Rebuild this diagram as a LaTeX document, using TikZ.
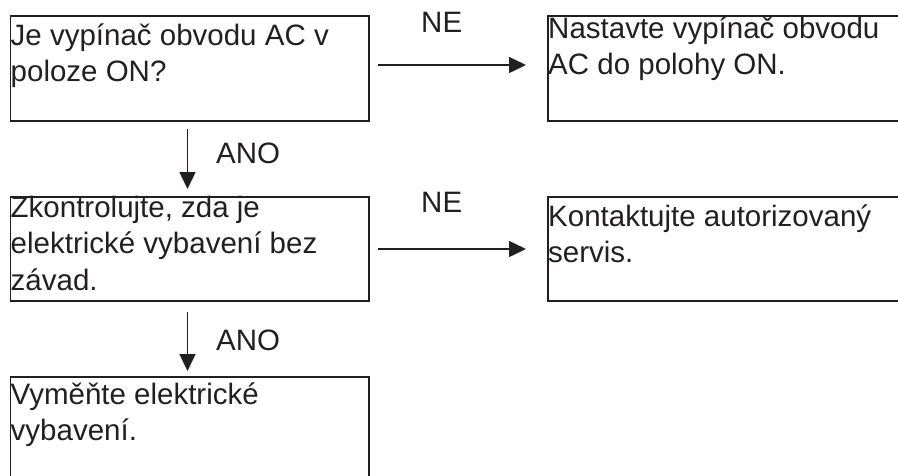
\documentclass[tikz,border=0pt]{standalone}
\usepackage{fontspec}
\setmainfont{Liberation Sans}
\usetikzlibrary{arrows.meta}
\definecolor{ink}{HTML}{231F20}
\begin{document}
\begin{tikzpicture}[x=1pt,y=-1pt,
  box/.style={draw=ink,line width=1.5pt,rectangle,inner sep=0pt,anchor=north west},
  txt/.style={inner sep=0pt,anchor=base west,text=ink,font=\fontsize{29.5}{36.5}\selectfont},
  lbl/.style={inner sep=0pt,anchor=base west,text=ink,font=\fontsize{29.5}{34}\selectfont},
  conn/.style={draw=ink,line width=1.5pt,-{Triangle[length=17pt,width=16pt]},shorten >=0pt}]
\clip (0,0) rectangle (898,475);
% boxes
\node[box,minimum width=358.5pt,minimum height=105pt] (b1) at (9.5,15) {};
\node[box,minimum width=358.5pt,minimum height=104pt] (b2) at (9.5,196) {};
\node[box,minimum width=358.5pt,minimum height=110pt] (b3) at (9.5,376) {};
\node[box,minimum width=360pt,minimum height=105pt] (r1) at (547,15) {};
\node[box,minimum width=360pt,minimum height=104pt] (r2) at (547,196) {};
% texts
\node[txt] (t1) at (10.5,45) {\parbox[t]{400pt}{Je vypínač obvodu AC v\\poloze ON?}};
\node[txt] (t2) at (10.5,217) {\parbox[t]{400pt}{Zkontrolujte, zda je\\elektrické vybavení bez\\závad.}};
\node[txt] (t3) at (10.5,404) {\parbox[t]{400pt}{Vyměňte elektrické\\vybavení.}};
\node[txt] (t4) at (548,38) {\parbox[t]{400pt}{Nastavte vypínač obvodu\\AC do polohy ON.}};
\node[txt] (t5) at (548,226) {\parbox[t]{400pt}{Kontaktujte autorizovaný\\servis.}};
% connectors
\coordinate (h1s) at (378,65);
\coordinate (h1e) at (526,65);
\coordinate (h2s) at (378,249);
\coordinate (h2e) at (526,249);
\coordinate (v1s) at (187.5,129);
\coordinate (v1e) at (187.5,189);
\coordinate (v2s) at (187.5,312);
\coordinate (v2e) at (187.5,371);
\draw[conn] (h1s) -- (h1e);
\draw[conn] (h2s) -- (h2e);
\draw[conn] (v1s) -- (v1e);
\draw[conn] (v2s) -- (v2e);
% labels
\node[lbl] (ne1) at (421,32) {NE};
\node[lbl] (ne2) at (421,212) {NE};
\node[lbl] (ano1) at (216,163) {ANO};
\node[lbl] (ano2) at (216,350) {ANO};
\end{tikzpicture}
\end{document}
